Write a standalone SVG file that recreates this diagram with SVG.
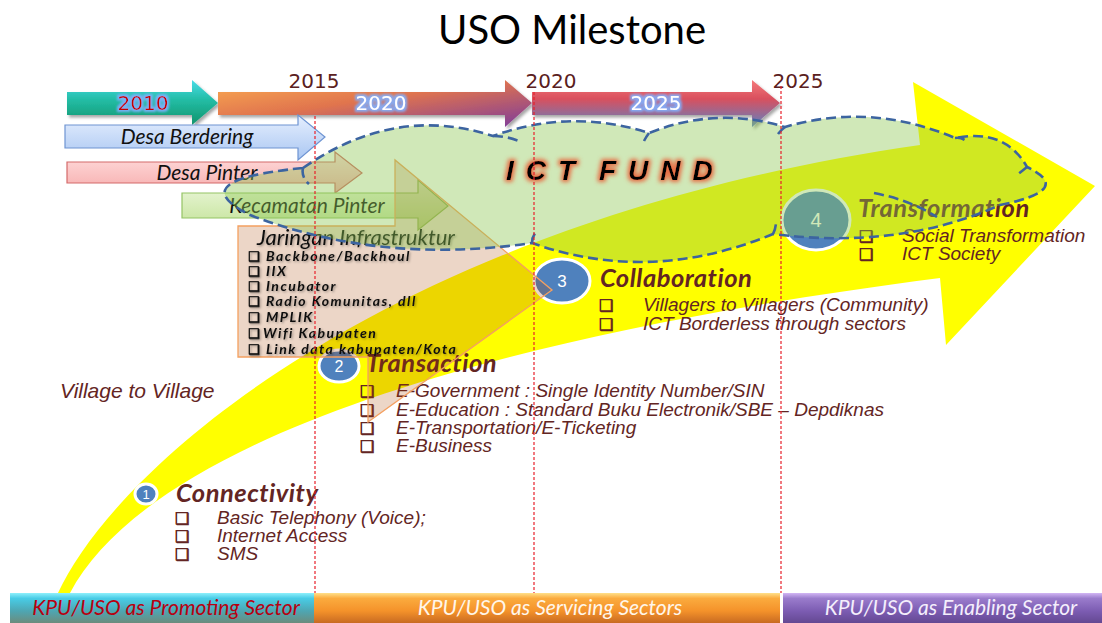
<svg xmlns="http://www.w3.org/2000/svg" width="1102" height="623" viewBox="0 0 1102 623">
  <style>
    .title { font-family: Lato, "Liberation Sans", sans-serif; font-size: 40px; fill: #000; }
    .year { font-family: "DejaVu Sans", sans-serif; font-size: 20px; fill: #5a2020; }
    .inyear { font-family: "DejaVu Sans", sans-serif; font-size: 20px; }
    .lane { font-family: Lato, "Liberation Sans", sans-serif; font-style: italic; font-size: 21px; fill: #111; }
    .jtitle { font-family: Lato, "Liberation Sans", sans-serif; font-style: italic; font-size: 22px; fill: #111; }
    .jitem { font-family: Lato, "Liberation Sans", sans-serif; font-style: italic; font-weight: bold; font-size: 14px; letter-spacing: 1.5px; fill: #111; }
    .jbul { font-family: "DejaVu Sans", sans-serif; font-weight: bold; font-size: 13px; fill: #111; stroke: #111; stroke-width: 0.6; }
    .mtitle { font-family: Lato, "Liberation Sans", sans-serif; font-style: italic; font-weight: bold; font-size: 25.5px; letter-spacing: 0.5px; fill: #632523; }
    .mitem { font-family: "Liberation Sans", Arial, sans-serif; font-style: italic; font-size: 19px; fill: #632523; }
    .mbul { font-family: "DejaVu Sans", sans-serif; font-weight: bold; font-size: 16px; fill: #632523; stroke: #632523; stroke-width: 0.7; }
    .num { font-family: "Liberation Sans", Arial, sans-serif; fill: #fff; text-anchor: middle; }
    .v2v { font-family: "Liberation Sans", Arial, sans-serif; font-style: italic; font-size: 21px; fill: #632523; }
    .bar { font-family: Lato, "Liberation Sans", sans-serif; font-style: italic; font-size: 21px; text-anchor: middle; }
    .guide { stroke: #e8202a; stroke-width: 1.2; stroke-dasharray: 3 2; fill: none; }
    .cloud { fill: rgb(140,199,83); fill-opacity: 0.41; stroke: none; }
    .cloudline { fill: none; stroke: #3c64a0; stroke-width: 2.6; stroke-dasharray: 10 5; }
    .badge { fill: #4f81bd; stroke: #fff; stroke-width: 3; }
  </style>
  <defs>
    <filter id="shadow" x="-10%" y="-20%" width="130%" height="160%">
      <feDropShadow dx="2" dy="2.5" stdDeviation="1.6" flood-color="#000" flood-opacity="0.35"/>
    </filter>
    <filter id="txtShadow" x="-5%" y="-20%" width="115%" height="160%">
      <feDropShadow dx="1.2" dy="1.2" stdDeviation="0.8" flood-color="#000" flood-opacity="0.35"/>
    </filter>
    <filter id="fundGlow" x="-10%" y="-40%" width="120%" height="180%">
      <feMorphology in="SourceAlpha" operator="dilate" radius="2.2" result="fat"/>
      <feFlood flood-color="#e8643c" flood-opacity="0.9"/>
      <feComposite in2="fat" operator="in" result="halo"/>
      <feGaussianBlur in="halo" stdDeviation="2" result="soft"/>
      <feMerge><feMergeNode in="soft"/><feMergeNode in="SourceGraphic"/></feMerge>
    </filter>
    <filter id="blueGlow" x="-20%" y="-40%" width="140%" height="180%">
      <feMorphology in="SourceAlpha" operator="dilate" radius="1.5" result="fat"/>
      <feFlood flood-color="#7fb0ff" flood-opacity="0.9"/>
      <feComposite in2="fat" operator="in" result="halo"/>
      <feGaussianBlur in="halo" stdDeviation="1.2" result="soft"/>
      <feMerge><feMergeNode in="soft"/><feMergeNode in="SourceGraphic"/></feMerge>
    </filter>
    <linearGradient id="gTeal" x1="0" y1="0" x2="0" y2="1">
      <stop offset="0" stop-color="#48dce8"/>
      <stop offset="0.45" stop-color="#22bca4"/>
      <stop offset="1" stop-color="#12946c"/>
    </linearGradient>
    <linearGradient id="gOrangePurple" x1="0" y1="0" x2="1" y2="1">
      <stop offset="0" stop-color="#fbac52"/>
      <stop offset="0.45" stop-color="#e0744e"/>
      <stop offset="1" stop-color="#7c3a9c"/>
    </linearGradient>
    <linearGradient id="gRedBlue" x1="0" y1="0" x2="0" y2="1">
      <stop offset="0" stop-color="#f47a7a"/>
      <stop offset="0.4" stop-color="#d9505e"/>
      <stop offset="1" stop-color="#5c82c4"/>
    </linearGradient>
    <linearGradient id="gBlue" x1="0" y1="0" x2="0" y2="1">
      <stop offset="0" stop-color="#e6effe"/>
      <stop offset="1" stop-color="#a9c6f2"/>
    </linearGradient>
    <linearGradient id="gPink" x1="0" y1="0" x2="0" y2="1">
      <stop offset="0" stop-color="#ffdede"/>
      <stop offset="1" stop-color="#f6acac"/>
    </linearGradient>
    <linearGradient id="gGreen" x1="0" y1="0" x2="0" y2="1">
      <stop offset="0" stop-color="#eef8e0"/>
      <stop offset="1" stop-color="#c2e296"/>
    </linearGradient>
    <linearGradient id="gBar1" x1="0" y1="0" x2="0" y2="1">
      <stop offset="0" stop-color="#8ef0fc"/>
      <stop offset="0.18" stop-color="#48cce6"/>
      <stop offset="0.6" stop-color="#4ea6b2"/>
      <stop offset="1" stop-color="#6c8c7c"/>
    </linearGradient>
    <linearGradient id="gBar2" x1="0" y1="0" x2="0" y2="1">
      <stop offset="0" stop-color="#ffe08a"/>
      <stop offset="0.18" stop-color="#fbab3e"/>
      <stop offset="0.6" stop-color="#f4922a"/>
      <stop offset="1" stop-color="#c86a22"/>
    </linearGradient>
    <linearGradient id="gBar3" x1="0" y1="0" x2="0" y2="1">
      <stop offset="0" stop-color="#d2b6f4"/>
      <stop offset="0.18" stop-color="#9a7ccc"/>
      <stop offset="0.6" stop-color="#7c5cb2"/>
      <stop offset="1" stop-color="#644892"/>
    </linearGradient>
  </defs>

  <rect width="1102" height="623" fill="#fff"/>

  <!-- heading -->
  <text class="title" x="572" y="44" text-anchor="middle">USO Milestone</text>

  <!-- big growth arrow sweeping from bottom-left to the right -->
  <g id="growth-arrow">
    <path d="M58,593 C120,460 400,220 920,145 L913,82 L1095,186 L946,345 L940,278 C420,345 140,460 70,593 Z" fill="#ffff00"/>
    <text class="v2v" x="60" y="398">Village to Village</text>
  </g>

  <!-- timeline arrows -->
  <g id="timeline" filter="url(#shadow)">
    <g id="t2010">
      <path d="M67,92 H192 V80 L218,103 L192,125 V115 H67 Z" fill="url(#gTeal)"/>
      <text class="inyear" x="143" y="110" text-anchor="middle" fill="#c00000" filter="url(#blueGlow)">2010</text>
    </g>
    <g id="t2020">
      <path d="M218,92 H505 V80 L532,103 L505,127 V115 H218 Z" fill="url(#gOrangePurple)"/>
      <text class="inyear" x="381" y="110" text-anchor="middle" fill="#fff" filter="url(#blueGlow)">2020</text>
    </g>
    <g id="t2025">
      <path d="M532,92 H752 V80 L780,103 L752,127 V115 H532 Z" fill="url(#gRedBlue)"/>
      <text class="inyear" x="656" y="110" text-anchor="middle" fill="#fff" filter="url(#blueGlow)">2025</text>
    </g>
  </g>
  <g id="year-marks">
    <text class="year" x="314" y="88" text-anchor="middle">2015</text>
    <text class="year" x="551" y="88" text-anchor="middle">2020</text>
    <text class="year" x="798" y="88" text-anchor="middle">2025</text>
  </g>

  <!-- programme arrows -->
  <g id="desa-berdering">
    <path d="M65,125 H298 V115 L325,137 L298,160 V148 H65 Z" fill="url(#gBlue)" stroke="#6e94d2" stroke-width="1.2"/>
    <text class="lane" x="187" y="144" text-anchor="middle">Desa Berdering</text>
  </g>
  <g id="desa-pinter">
    <path d="M67,162 H335 V152 L362,173 L335,193 V183 H67 Z" fill="url(#gPink)" stroke="#d46a6a" stroke-width="1.2"/>
    <text class="lane" x="207" y="180" text-anchor="middle">Desa Pinter</text>
  </g>
  <g id="kecamatan-pinter">
    <path d="M182,193 H418 V180 L448,206 L418,230 V218 H182 Z" fill="url(#gGreen)" stroke="#94c464" stroke-width="1.2"/>
    <text class="lane" x="307" y="213" text-anchor="middle">Kecamatan Pinter</text>
  </g>

  <!-- milestone badges and their lists -->
  <g id="m1-connectivity">
    <ellipse class="badge" cx="146" cy="494" rx="11" ry="10" stroke-width="2.5"/>
    <text class="num" x="146" y="499" font-size="13">1</text>
    <text class="mtitle" x="176" y="502">Connectivity</text>
    <text class="mbul" x="175" y="524">❑</text><text class="mitem" x="217" y="524">Basic Telephony (Voice);</text>
    <text class="mbul" x="175" y="542">❑</text><text class="mitem" x="217" y="542">Internet Access</text>
    <text class="mbul" x="175" y="560">❑</text><text class="mitem" x="217" y="560">SMS</text>
  </g>
  <g id="m2-transaction">
    <ellipse class="badge" cx="339" cy="366" rx="20" ry="16"/>
    <text class="num" x="339" y="372" font-size="16">2</text>
    <text class="mtitle" x="366" y="372">Transaction</text>
    <text class="mbul" x="360" y="397">❑</text><text class="mitem" x="396" y="397">E-Government : Single Identity Number/SIN</text>
    <text class="mbul" x="360" y="416">❑</text><text class="mitem" x="396" y="416">E-Education : Standard Buku Electronik/SBE – Depdiknas</text>
    <text class="mbul" x="360" y="434">❑</text><text class="mitem" x="396" y="434">E-Transportation/E-Ticketing</text>
    <text class="mbul" x="360" y="452">❑</text><text class="mitem" x="396" y="452">E-Business</text>
  </g>
  <g id="m3-collaboration">
    <ellipse class="badge" cx="562" cy="281" rx="28" ry="22"/>
    <text class="num" x="562" y="287" font-size="17">3</text>
    <text class="mtitle" x="600" y="287">Collaboration</text>
    <text class="mbul" x="599" y="311">❑</text><text class="mitem" x="643" y="311">Villagers to Villagers (Community)</text>
    <text class="mbul" x="599" y="330">❑</text><text class="mitem" x="643" y="330">ICT Borderless through sectors</text>
  </g>
  <g id="m4-transformation">
    <ellipse class="badge" cx="816" cy="220" rx="34" ry="30"/>
    <text class="num" x="816" y="227" font-size="20">4</text>
    <text class="mtitle" x="858" y="217">Transformation</text>
    <text class="mbul" x="859" y="242">❑</text><text class="mitem" x="902" y="242">Social Transformation</text>
    <text class="mbul" x="859" y="260">❑</text><text class="mitem" x="902" y="260">ICT Society</text>
  </g>

  <!-- infrastructure block with its pointer -->
  <g id="jaringan">
    <path d="M238,226 L395,226 L395,160 L552,290 L368,422 L368,357 L238,357 Z" fill="#a94500" fill-opacity="0.22" stroke="#f4a060" stroke-width="1.3"/>
    <g filter="url(#txtShadow)">
      <text class="jtitle" x="257" y="245">Jaringan Infrastruktur</text>
      <text class="jbul" x="248" y="261">❑</text><text class="jitem" x="266" y="261">Backbone/Backhoul</text>
      <text class="jbul" x="248" y="276">❑</text><text class="jitem" x="266" y="276">IIX</text>
      <text class="jbul" x="248" y="291">❑</text><text class="jitem" x="266" y="291">Incubator</text>
      <text class="jbul" x="248" y="306">❑</text><text class="jitem" x="266" y="306">Radio Komunitas, dll</text>
      <text class="jbul" x="248" y="322">❑</text><text class="jitem" x="266" y="322">MPLIK</text>
      <text class="jbul" x="248" y="338">❑</text><text class="jitem" x="263" y="338">Wifi Kabupaten</text>
      <text class="jbul" x="248" y="354">❑</text><text class="jitem" x="266" y="354">Link data kabupaten/Kota</text>
    </g>
  </g>

  <!-- ICT fund cloud -->
  <g id="ict-fund">
    <path class="cloud" d="M303,168 Q395,104 493,136 Q571,108 649,133 Q717,106 785,127 Q870,102 955,138 Q1005,128 1027,167 Q1075,190 1000,205 Q900,250 773,234 Q650,285 532,243 Q380,265 250,215 Q180,180 303,168 Z"/>
    <path class="cloudline" d="M303,168 Q395,104 493,136 Q571,108 649,133 Q717,106 785,127 Q870,102 955,138 Q1005,128 1027,167 Q1075,190 1000,205 Q900,250 773,234 Q650,285 532,243 Q380,265 250,215 Q180,180 303,168"/>
    <path class="cloudline" d="M303,168 Q301,177 309,184 M493,136 Q506,136 519,141 M649,133 Q646,137 644,141 M785,127 Q781,130 778,134 M955,138 Q961,137 966,141 M1027,167 Q1022,171 1017,175 M874,193 Q910,200 937,217 M773,234 Q776,228 776,222 M532,243 Q532,236 537,231"/>
    <text x="506" y="180" font-family="'Liberation Sans', Arial, sans-serif" font-weight="bold" font-style="italic" font-size="28" letter-spacing="12" word-spacing="-8" fill="#000" filter="url(#fundGlow)">ICT FUND</text>
  </g>

  <!-- period guide lines -->
  <g id="guides">
    <line class="guide" x1="315" y1="116" x2="315" y2="593"/>
    <line class="guide" x1="534" y1="92" x2="534" y2="593"/>
    <line class="guide" x1="781" y1="86" x2="781" y2="593"/>
  </g>

  <!-- sector bands -->
  <g id="band-promoting">
    <rect x="10" y="593" width="304" height="30" fill="url(#gBar1)"/>
    <text class="bar" x="166" y="615" fill="#b80010">KPU/USO as Promoting Sector</text>
  </g>
  <g id="band-servicing">
    <rect x="314" y="593" width="466" height="30" fill="url(#gBar2)"/>
    <text class="bar" x="550" y="615" fill="#fff6ea">KPU/USO as Servicing Sectors</text>
  </g>
  <g id="band-enabling">
    <rect x="783" y="593" width="319" height="30" fill="url(#gBar3)"/>
    <text class="bar" x="951" y="615" fill="#f4eefc">KPU/USO as Enabling Sector</text>
  </g>
</svg>
